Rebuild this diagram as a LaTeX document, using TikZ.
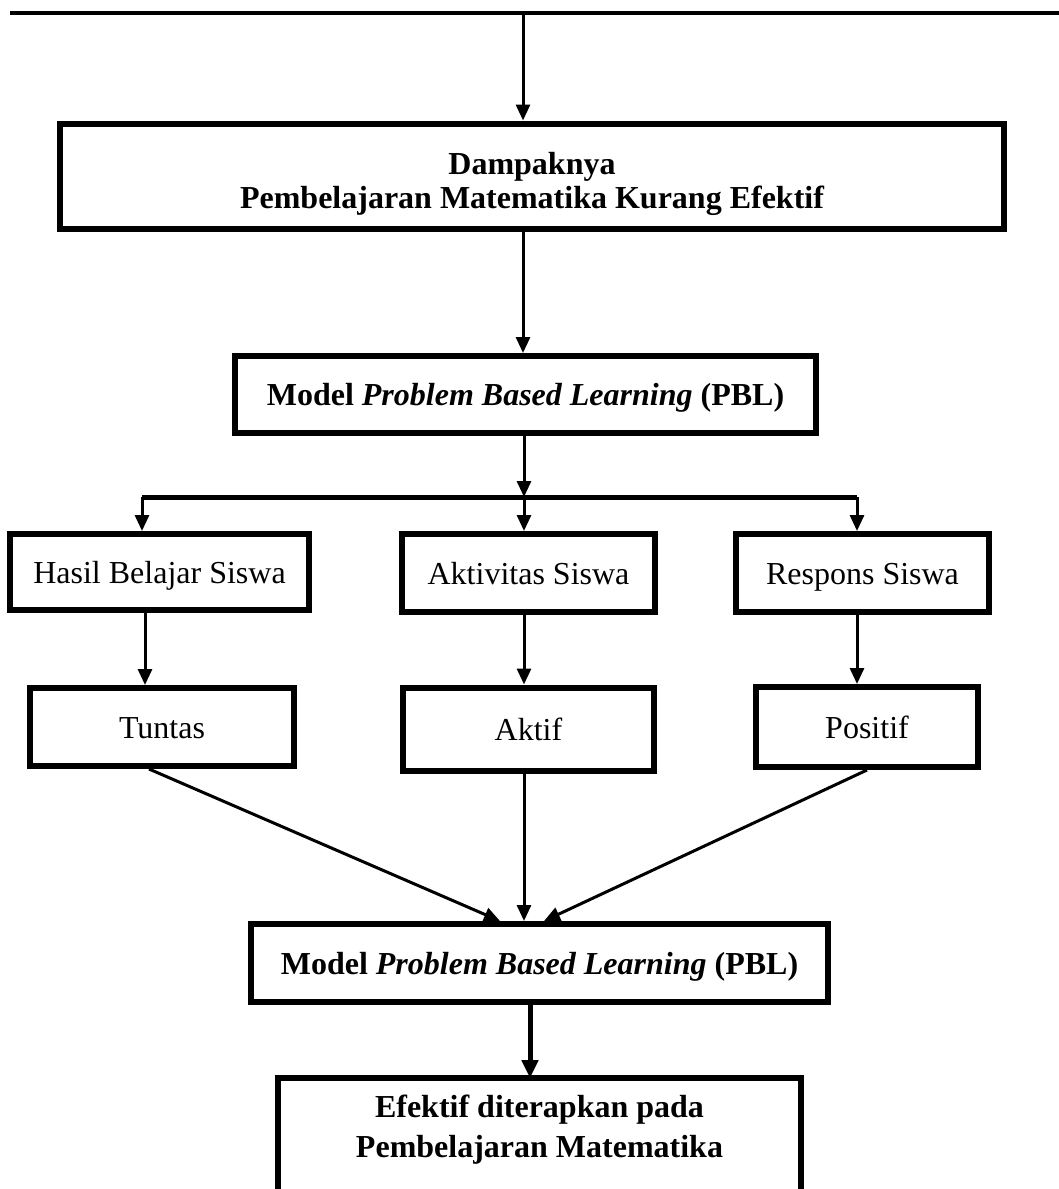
\documentclass[tikz,border=0pt]{standalone}
\usepackage{fontspec}
\setmainfont{Liberation Serif}
\usetikzlibrary{positioning}
\usetikzlibrary{arrows.meta}

\tikzset{
  kotak/.style={draw, line width=3pt, rectangle, align=center, inner sep=0pt, text height=15pt, text depth=4pt},
  panah/.style={line width=1.5pt, -{Triangle[length=8pt,width=7pt]}},
  panahtebal/.style={line width=2.5pt, -{Triangle[length=9pt,width=8pt]}},
}

\begin{document}
\begin{tikzpicture}[x=0.5pt, y=-0.5pt, font=\fontsize{16}{18}\selectfont]
    \clip (0,0) rectangle (1059,1189);

    % Top line
    \coordinate (gL) at (10,13);
    \coordinate (gR) at (1065,13);
    \coordinate (gM) at (523,13);
    \draw[line width=2pt] (gL) -- (gR);

    % Main boxes
    \node[kotak, text height=36pt, text depth=, minimum width=472pt, minimum height=52.5pt, font=\fontsize{16}{17}\selectfont\bfseries] (dampak) at (532,176) {Dampaknya\\Pembelajaran Matematika Kurang Efektif};
    \node[kotak, minimum width=290.5pt, minimum height=38.5pt] (pbl1) at (525.5,394.5) {\textbf{Model \textit{Problem Based Learning} (PBL)}};

    % Branch
    \coordinate (cab) at (524,497);
    \coordinate (cabL) at (142,497);
    \coordinate (cabR) at (857,497);

    \node[kotak, minimum width=149.5pt, minimum height=38pt] (hasil) at (159.5,572) {Hasil Belajar Siswa};
    \node[kotak, minimum width=126.5pt, minimum height=39pt] (aktiv) at (528.5,573) {Aktivitas Siswa};
    \node[kotak, minimum width=126.5pt, minimum height=39pt] (respon) at (862.5,573) {Respons Siswa};

    \node[kotak, minimum width=132pt, minimum height=39pt] (tuntas) at (162,727) {Tuntas};
    \node[kotak, minimum width=125.5pt, minimum height=41.5pt] (aktif) at (528.5,729) {Aktif};
    \node[kotak, minimum width=111pt, minimum height=40pt] (positif) at (867,727) {Positif};

    \node[kotak, minimum width=288.5pt, minimum height=39pt] (pbl2) at (539.5,963) {\textbf{Model \textit{Problem Based Learning} (PBL)}};

    % Last box, open at the bottom
    \coordinate (bawah) at (0,1220);
    \node[align=center, inner sep=0pt, minimum width=261pt, minimum height=51.5pt, font=\fontsize{16}{20}\selectfont\bfseries] (efektif) at (539.5,1130) {Efektif diterapkan pada\\Pembelajaran Matematika};
    \draw[line width=3pt] (efektif.west |- bawah) -- (efektif.north west) -- (efektif.north east) -- (efektif.east |- bawah);

    % Arrows
    \draw[panah] (gM) -- (dampak.north -| gM);
    \draw[panah] (dampak.south -| gM) -- (pbl1.north -| gM);
    \draw[panah] (pbl1.south -| cab) -- (cab);
    \draw[line width=2.5pt] (cabL) -- (cabR);
    \draw[panah] (cabL) -- (hasil.north -| cabL);
    \draw[panah] (cab) -- (aktiv.north -| cab);
    \draw[panah] (cabR) -- (respon.north -| cabR);

    \draw[panah] ([xshift=1.5pt]hasil.south -| cabL) -- ([xshift=1.5pt]tuntas.north -| cabL);
    \draw[panah] (aktiv.south -| cab) -- (aktif.north -| cab);
    \draw[panah] (respon.south -| cabR) -- (positif.north -| cabR);

    \draw[panah] ([xshift=-6.5pt]tuntas.south) -- ([xshift=-19.75pt]pbl2.north);
    \draw[panah] (aktif.south -| cab) -- (pbl2.north -| cab);
    \draw[panah] (positif.south) -- ([xshift=2.25pt]pbl2.north);

    \draw[panahtebal] ([xshift=-4.75pt]pbl2.south) -- ([xshift=-4.75pt]efektif.north);
\end{tikzpicture}
\end{document}
